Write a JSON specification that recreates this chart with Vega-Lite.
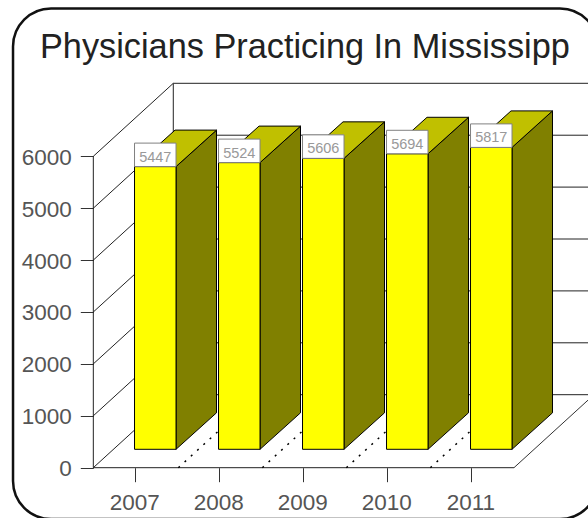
{
  "$schema": "https://vega.github.io/schema/vega-lite/v6.json",
  "width": 588, "height": 518, "padding": 0, "autosize": {"type": "none"},
  "background": "white",
  "view": {"stroke": null},
  "datasets": {
    "bars": [
      {"year": 2007, "value": 5447},
      {"year": 2008, "value": 5524},
      {"year": 2009, "value": 5606},
      {"year": 2010, "value": 5694},
      {"year": 2011, "value": 5817}
    ],
    "ticks": [{"tick": 0}, {"tick": 1000}, {"tick": 2000}, {"tick": 3000}, {"tick": 4000}, {"tick": 5000}, {"tick": 6000}]
  },
  "layer": [
    {
      "data": {"values": [{"part": "frame"}]},
      "mark": {"type": "rect", "filled": false, "stroke": "#111111", "strokeWidth": 2.5, "cornerRadius": 38},
      "encoding": {
        "x": {"datum": 2005.544, "type": "quantitative", "scale": {"domain": [2005.389, 2012.389], "zero": false, "nice": false},
          "axis": {"values": [2007, 2008, 2009, 2010, 2011], "format": "d", "title": null, "grid": false, "domain": false, "offset": -50.3, "tickSize": 14, "tickColor": "#333333", "labelFont": "Liberation Sans", "labelFontSize": 22.5, "labelColor": "#555555", "labelPadding": 10, "labelOffset": -1, "labelFlush": false, "labelOverlap": false}},
        "x2": {"datum": 2012.508},
        "y": {"datum": 8847.8, "type": "quantitative", "scale": {"domain": [-969.2, 9011.6], "zero": false, "nice": false},
          "axis": {"values": [0, 1000, 2000, 3000, 4000, 5000, 6000], "format": "d", "title": null, "grid": false, "domain": false, "offset": -93.3, "tickSize": 13, "tickColor": "#333333", "labelFont": "Liberation Sans", "labelFontSize": 22.5, "labelColor": "#555555", "labelPadding": 9, "labelOffset": 1, "labelFlush": false, "labelOverlap": false}},
        "y2": {"datum": -988.4}
      }
    },
    {
      "data": {"values": [{"label": "Physicians Practicing In Mississipp"}]},
      "mark": {"type": "text", "font": "Liberation Sans", "fontSize": 34.3, "color": "#222222", "align": "left", "baseline": "alphabetic"},
      "encoding": {
        "x": {"datum": 2005.865, "type": "quantitative", "title": null},
        "y": {"datum": 7894, "type": "quantitative", "title": null},
        "text": {"field": "label"}
      }
    },
    {
      "data": {"name": "ticks"},
      "transform": [{"calculate": "datum.tick + 1406.5", "as": "back"}],
      "mark": {"type": "rule", "stroke": "#222222", "strokeWidth": 1},
      "encoding": {
        "x": {"datum": 2006.5, "type": "quantitative", "title": null},
        "x2": {"datum": 2007.452},
        "y": {"field": "tick", "type": "quantitative", "title": null},
        "y2": {"field": "back"}
      }
    },
    {
      "data": {"name": "ticks"},
      "transform": [{"calculate": "datum.tick + 1406.5", "as": "back"}],
      "mark": {"type": "rule", "stroke": "#222222", "strokeWidth": 1},
      "encoding": {
        "x": {"datum": 2007.452, "type": "quantitative", "title": null},
        "x2": {"datum": 2012.389},
        "y": {"field": "back", "type": "quantitative", "title": null}
      }
    },
    {
      "data": {"values": [{"x": 2006.5, "lo": 0, "hi": 6000}, {"x": 2007.452, "lo": 1406.5, "hi": 7406.5}]},
      "mark": {"type": "rule", "stroke": "#222222", "strokeWidth": 1},
      "encoding": {
        "x": {"field": "x", "type": "quantitative", "title": null},
        "y": {"field": "lo", "type": "quantitative", "title": null},
        "y2": {"field": "hi"}
      }
    },
    {
      "data": {"values": [{"lo": 2006.5, "hi": 2011.508}]},
      "mark": {"type": "rule", "stroke": "#222222", "strokeWidth": 1},
      "encoding": {
        "x": {"field": "lo", "type": "quantitative", "title": null},
        "x2": {"field": "hi"},
        "y": {"datum": 0, "type": "quantitative", "title": null}
      }
    },
    {
      "data": {"name": "bars"},
      "transform": [
        {"filter": "datum.year < 2011"},
        {"calculate": "datum.year + 0.512", "as": "a"},
        {"calculate": "datum.year + 1.464", "as": "b"}
      ],
      "mark": {"type": "rule", "stroke": "#000000", "strokeWidth": 1.5, "strokeDash": [2, 6.5]},
      "encoding": {
        "x": {"field": "a", "type": "quantitative", "title": null},
        "x2": {"field": "b"},
        "y": {"datum": 0, "type": "quantitative", "title": null},
        "y2": {"datum": 1406.5}
      }
    },
    {
      "data": {"values": [{"a": 2011.508, "b": 2012.46}]},
      "mark": {"type": "rule", "stroke": "#333333", "strokeWidth": 1},
      "encoding": {
        "x": {"field": "a", "type": "quantitative", "title": null},
        "x2": {"field": "b"},
        "y": {"datum": 0, "type": "quantitative", "title": null},
        "y2": {"datum": 1406.5}
      }
    },
    {
      "data": {"name": "bars"},
      "transform": [
        {"calculate": "[0, 1]", "as": "d"},
        {"flatten": ["d"]},
        {"calculate": "datum.year + 0.4845 + datum.d * 0.482", "as": "sx"},
        {"calculate": "datum.value + 354.5 + datum.d * 703", "as": "st"},
        {"calculate": "354.5 + datum.d * 703", "as": "sb"}
      ],
      "mark": {"type": "area", "fill": "#808000", "stroke": "#000000", "strokeWidth": 1, "opacity": 1},
      "encoding": {
        "x": {"field": "sx", "type": "quantitative", "title": null},
        "y": {"field": "st", "type": "quantitative", "title": null},
        "y2": {"field": "sb"},
        "detail": {"field": "year"}
      }
    },
    {
      "data": {"name": "bars"},
      "transform": [
        {"calculate": "datum.year - 0.0095", "as": "l"},
        {"calculate": "datum.value + 354.5", "as": "t"}
      ],
      "mark": {"type": "point", "shape": "M0,0 L41.5,0 L82,-36.5 L40.5,-36.5 Z", "size": 4, "filled": true, "fill": "#C0C000", "stroke": "#000000", "strokeWidth": 1, "opacity": 1},
      "encoding": {
        "x": {"field": "l", "type": "quantitative", "title": null},
        "y": {"field": "t", "type": "quantitative", "title": null}
      }
    },
    {
      "data": {"name": "bars"},
      "transform": [
        {"calculate": "datum.year - 0.0095", "as": "l"},
        {"calculate": "datum.year + 0.4845", "as": "r"},
        {"calculate": "datum.value + 354.5", "as": "t"},
        {"calculate": "354.5", "as": "b"}
      ],
      "mark": {"type": "rect", "fill": "#FFFF00", "stroke": "#000000", "strokeWidth": 1},
      "encoding": {
        "x": {"field": "l", "type": "quantitative", "title": null},
        "x2": {"field": "r"},
        "y": {"field": "t", "type": "quantitative", "title": null},
        "y2": {"field": "b"}
      }
    },
    {
      "data": {"name": "bars"},
      "transform": [
        {"calculate": "datum.year - 0.0095", "as": "l"},
        {"calculate": "datum.value + 354.5", "as": "t"}
      ],
      "mark": {"type": "point", "shape": "M0,0 L41.5,0 L41.5,-23.5 L0,-23.5 Z", "size": 4, "filled": true, "fill": "#FFFFFF", "stroke": "#808080", "strokeWidth": 1, "opacity": 1},
      "encoding": {
        "x": {"field": "l", "type": "quantitative", "title": null},
        "y": {"field": "t", "type": "quantitative", "title": null}
      }
    },
    {
      "data": {"name": "bars"},
      "transform": [
        {"calculate": "datum.year + 0.2375", "as": "c"},
        {"calculate": "datum.value + 354.5", "as": "t"}
      ],
      "mark": {"type": "text", "font": "Liberation Sans", "fontSize": 14.5, "color": "#999999", "align": "center", "baseline": "alphabetic", "dy": -5},
      "encoding": {
        "x": {"field": "c", "type": "quantitative", "title": null},
        "y": {"field": "t", "type": "quantitative", "title": null},
        "text": {"field": "value", "type": "quantitative", "format": "d"}
      }
    }
  ]
}
